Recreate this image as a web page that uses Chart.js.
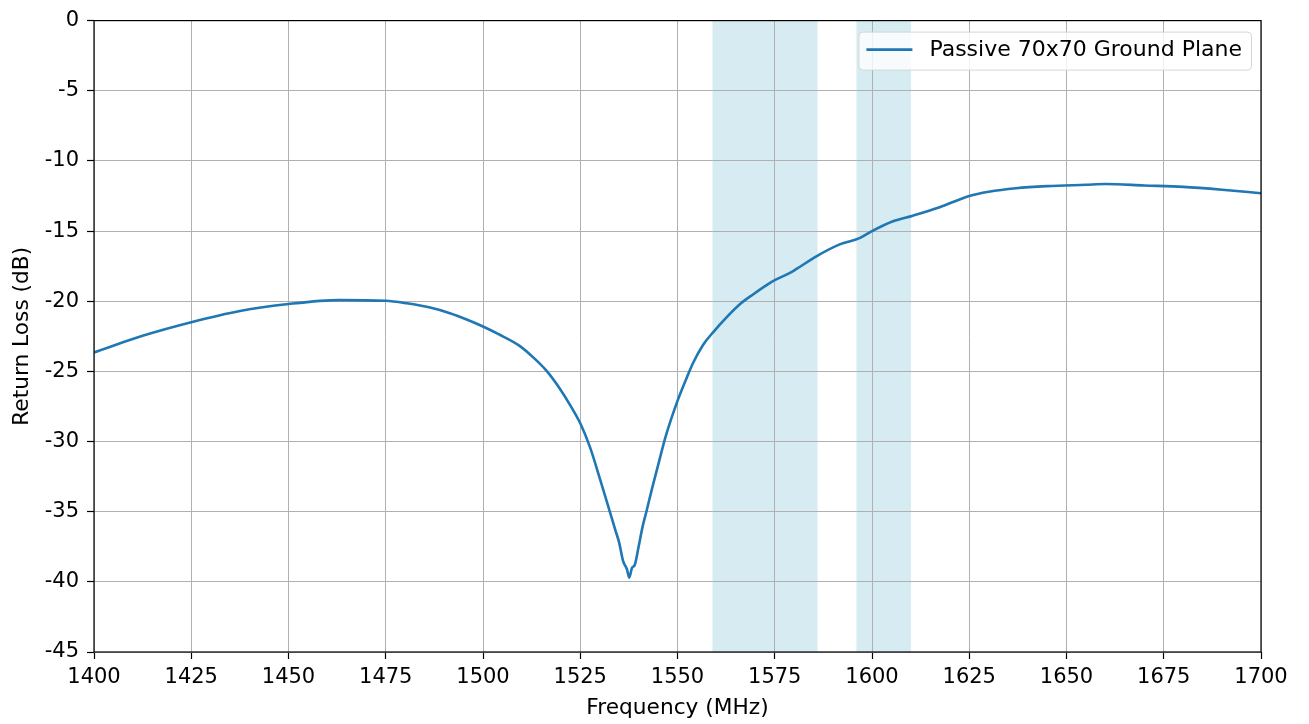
<!DOCTYPE html>
<html>
<head>
<meta charset="utf-8">
<script src="https://cdn.jsdelivr.net/npm/chart.js@4/dist/chart.umd.min.js"></script>
<style>
html,body{margin:0;padding:0;background:#fff;}
#wrap{width:1309px;height:724px;}
</style>
</head>
<body>
<div id="wrap"><canvas id="c" width="1309" height="724"></canvas></div>
<script>
const freqMHz = [1400,1412.7,1425,1437.5,1450,1463,1475,1480.4,1486.4,1491.5,1495.8,1500,1504,1509.5,1512.9,1516.3,1519.8,1522.4,1525,1527.5,1530,1532.5,1534,1535,1536,1537,1537.6,1538.3,1539,1540,1541,1542,1543.5,1545,1547,1550,1552.3,1554,1556.6,1559.2,1562.6,1566.1,1569.5,1572.9,1575,1578.8,1580.6,1585.7,1591.7,1596.8,1600,1605.4,1610.5,1617.4,1625,1630,1637,1645,1655,1660,1670,1680,1690,1700];
const returnLossDb = [-23.65,-22.45,-21.5,-20.7,-20.2,-19.92,-19.97,-20.15,-20.45,-20.85,-21.3,-21.8,-22.35,-23.2,-24.0,-24.95,-26.25,-27.4,-28.7,-30.4,-32.6,-34.9,-36.3,-37.2,-38.5,-39.1,-39.7,-39.0,-38.8,-37.5,-36.1,-35.0,-33.3,-31.7,-29.6,-27.1,-25.5,-24.4,-23.1,-22.2,-21.15,-20.2,-19.5,-18.85,-18.5,-18.0,-17.7,-16.8,-15.95,-15.5,-15.0,-14.3,-13.9,-13.3,-12.5,-12.2,-11.95,-11.8,-11.7,-11.65,-11.75,-11.85,-12.05,-12.3];
const bandStarts = [1559, 1596];
const bandEnds = [1586, 1610];
const xTickStep = 25;
const yTickStep = 5;
const seriesLabel = 'Passive 70x70 Ground Plane';

const FONT = 'DejaVu Sans';
const FS = 21;
const FS_TITLE = 21.7;
const FS_LEG = 22;

const bandsPlugin = {
  id: 'bands',
  beforeDraw(chart) {
    const {ctx, chartArea, scales} = chart;
    ctx.save();
    ctx.fillStyle = 'rgb(214,235,242)';
    for (let i = 0; i < bandStarts.length; i++) {
      const x0 = scales.x.getPixelForValue(bandStarts[i]);
      const x1 = scales.x.getPixelForValue(bandEnds[i]);
      ctx.fillRect(x0, chartArea.top, x1 - x0, chartArea.bottom - chartArea.top);
    }
    ctx.restore();
  }
};

const framePlugin = {
  id: 'frame',
  afterDraw(chart) {
    const {ctx, chartArea} = chart;
    ctx.save();
    ctx.strokeStyle = '#000';
    ctx.lineWidth = 1.2;
    ctx.strokeRect(chartArea.left, chartArea.top, chartArea.right - chartArea.left, chartArea.bottom - chartArea.top);
    // legend
    const ds = chart.data.datasets[0];
    ctx.font = FS_LEG + 'px "' + FONT + '"';
    const tw = ctx.measureText(ds.label).width;
    const boxRight = chartArea.right - 10;
    const boxTop = chartArea.top + 11;
    const boxH = 38;
    const boxW = 8 + 46 + 17 + tw + 9;
    const boxLeft = boxRight - boxW;
    ctx.beginPath();
    if (ctx.roundRect) ctx.roundRect(boxLeft + 0.5, boxTop + 0.5, boxW, boxH, 4);
    else ctx.rect(boxLeft + 0.5, boxTop + 0.5, boxW, boxH);
    ctx.fillStyle = 'rgba(255,255,255,0.8)';
    ctx.fill();
    ctx.strokeStyle = '#d6d6d6';
    ctx.lineWidth = 1;
    ctx.stroke();
    const cy = boxTop + boxH / 2;
    ctx.beginPath();
    ctx.moveTo(boxLeft + 8, cy - 1);
    ctx.lineTo(boxLeft + 54, cy - 1);
    ctx.strokeStyle = ds.borderColor;
    ctx.lineWidth = 2.6;
    ctx.stroke();
    ctx.fillStyle = '#000';
    ctx.textBaseline = 'middle';
    ctx.textAlign = 'left';
    ctx.fillText(ds.label, boxLeft + 71, cy);
    ctx.restore();
  }
};

const points = freqMHz.map((f, i) => ({x: f, y: returnLossDb[i]}));

new Chart(document.getElementById('c'), {
  type: 'line',
  data: {
    datasets: [{
      label: seriesLabel,
      data: points,
      borderColor: '#1f77b4',
      backgroundColor: '#1f77b4',
      borderWidth: 2.6,
      pointRadius: 0,
      cubicInterpolationMode: 'monotone',
      fill: false
    }]
  },
  options: {
    responsive: false,
    animation: false,
    devicePixelRatio: 1,
    layout: {padding: {left: 0, top: 19, right: 48, bottom: 0}},
    plugins: {legend: {display: false}, tooltip: {enabled: false}},
    scales: {
      x: {
        type: 'linear',
        min: 1400, max: 1700,
        afterFit(s) { s.height = 72; },
        ticks: {stepSize: xTickStep, color: '#000', padding: 6, maxRotation: 0, autoSkip: false,
          font: {family: FONT, size: FS}, callback: v => String(v)},
        grid: {color: '#b0b0b0', lineWidth: 1, tickLength: 7, tickColor: '#000', tickWidth: 1.2},
        border: {display: false},
        title: {display: true, text: 'Frequency (MHz)', color: '#000', font: {family: FONT, size: FS_TITLE}, padding: {top: 0, bottom: 3}}
      },
      y: {
        min: -45, max: 0,
        afterFit(s) { s.width = 94; },
        ticks: {stepSize: yTickStep, color: '#000', padding: 8,
          font: {family: FONT, size: FS}, callback: v => String(v)},
        grid: {color: '#b0b0b0', lineWidth: 1, tickLength: 7, tickColor: '#000', tickWidth: 1.2},
        border: {display: false},
        title: {display: true, text: 'Return Loss (dB)', color: '#000', font: {family: FONT, size: FS_TITLE}, padding: {top: 9, bottom: 0}}
      }
    }
  },
  plugins: [bandsPlugin, framePlugin]
});
</script>
</body>
</html>
